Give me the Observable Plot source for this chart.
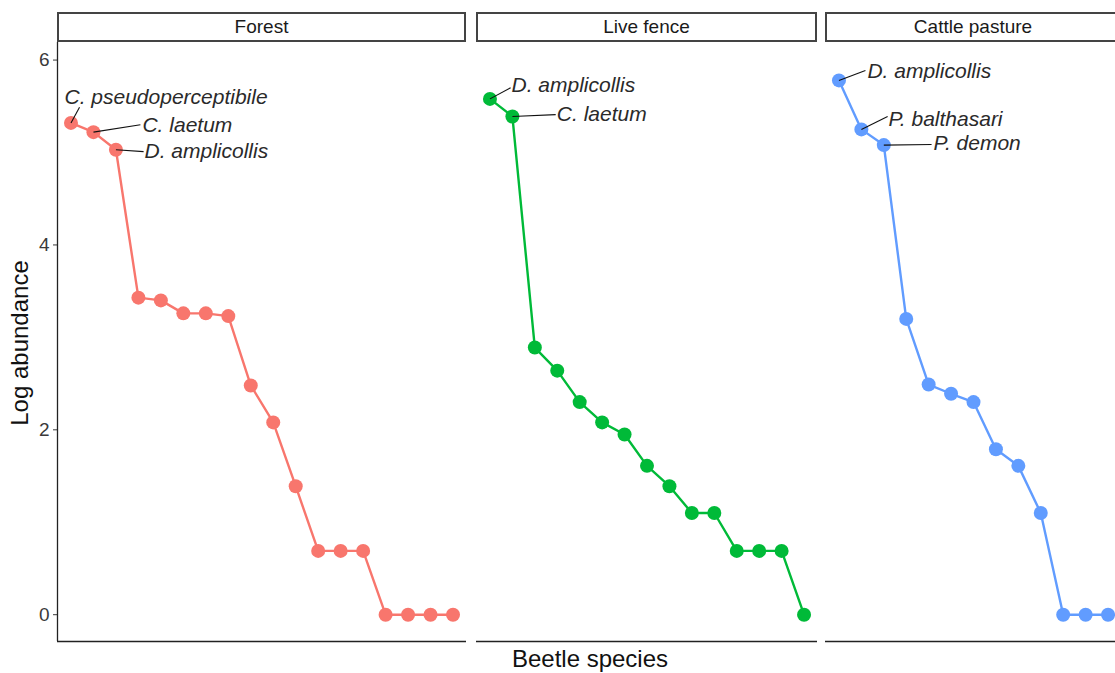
<!DOCTYPE html>
<html>
<head>
<meta charset="utf-8">
<script src="https://cdn.jsdelivr.net/npm/d3@7"></script>
<script src="https://cdn.jsdelivr.net/npm/@observablehq/plot@0.6"></script>
<style>
  html, body { margin: 0; padding: 0; background: #fff; overflow: hidden; }
  body { font-family: "Liberation Sans", Arial, sans-serif; }
  #wrap { position: relative; width: 1140px; height: 673px; }
  .strip { position: absolute; top: 12px; height: 30px; box-sizing: border-box;
           border: 2px solid #444; background: #fff; text-align: center;
           font-size: 19px; line-height: 26px; color: #1a1a1a; white-space: nowrap; overflow: hidden; }
  .panel { position: absolute; top: 42px; }
  .ylab { position: absolute; left: 19.5px; top: 343px; transform: translate(-50%, -50%) rotate(-90deg);
          font-size: 24px; line-height: 1; white-space: nowrap; color: #111; }
  .xlab { position: absolute; left: 590px; top: 647px; transform: translateX(-50%);
          font-size: 24px; line-height: 1; white-space: nowrap; color: #111; }
</style>
</head>
<body>
<div id="wrap">
  <div class="ylab">Log abundance</div>
  <div class="xlab">Beetle species</div>
</div>
<script>
// ---- data ----
const facets = ["Forest", "Live fence", "Cattle pasture"];
const facetColors = ["#F8766D", "#00BA38", "#619CFF"];
const forestValues = [5.32, 5.22, 5.03, 3.43, 3.40, 3.26, 3.26, 3.23, 2.48, 2.08, 1.39, 0.69, 0.69, 0.69, 0, 0, 0, 0];
const liveFenceValues = [5.58, 5.39, 2.89, 2.64, 2.30, 2.08, 1.95, 1.61, 1.39, 1.10, 1.10, 0.69, 0.69, 0.69, 0];
const pastureValues = [5.78, 5.25, 5.08, 3.20, 2.49, 2.39, 2.30, 1.79, 1.61, 1.10, 0, 0, 0];
const yTicks = [0, 2, 4, 6];

// labelled species (facet index, rank, name)
const labelFacet = [0, 0, 0, 1, 1, 2, 2, 2];
const labelRank = [1, 2, 3, 1, 2, 1, 2, 3];
const labelText = ["C. pseudoperceptibile", "C. laetum", "D. amplicollis",
                   "D. amplicollis", "C. laetum",
                   "D. amplicollis", "P. balthasari", "P. demon"];

// ---- layout (repelled label placement, in data units) ----
const labelPos = [[0.71, 5.60], [4.18, 5.29], [4.27, 5.01], [1.96, 5.725], [3.98, 5.41], [2.27, 5.877], [3.21, 5.357], [5.22, 5.098]];
const segEnd = [[1.38, 5.49], [4.09, 5.30], [4.23, 5.01], [1.92, 5.70], [3.93, 5.41], [2.18, 5.888], [3.17, 5.39], [5.13, 5.087]];
const panelLeft = [57, 476, 825];
const stepPx = 22.45;
const yDomain = [-0.29, 6.19];

const seriesValues = [forestValues, liveFenceValues, pastureValues];
const wrap = document.getElementById("wrap");

facets.forEach((name, i) => {
  const vals = seriesValues[i];
  const n = vals.length;
  const rows = vals.map((v, k) => ({rank: k + 1, value: v}));
  const labs = labelText.map((t, j) => ({
    text: t, facet: labelFacet[j], rank: labelRank[j],
    value: seriesValues[labelFacet[j]][labelRank[j] - 1],
    lx: labelPos[j][0], ly: labelPos[j][1], sx: segEnd[j][0], sy: segEnd[j][1]
  })).filter(d => d.facet === i);

  const xDomain = [0.4, n + 0.6];
  const innerW = Math.round((n + 0.2) * stepPx);
  const first = i === 0;
  const mLeft = first ? panelLeft[0] : 0;

  const chart = Plot.plot({
    width: innerW + mLeft,
    height: 601,
    marginTop: 0,
    marginBottom: 2,
    marginLeft: mLeft,
    marginRight: 0,
    style: {fontSize: "19px", fontFamily: "Liberation Sans, Arial, sans-serif", color: "#3a3a3a", background: "transparent", overflow: "visible"},
    x: {domain: xDomain, axis: null},
    y: first
      ? {domain: yDomain, ticks: yTicks, tickSize: 4, tickPadding: 4, label: null, tickFormat: d3.format("d")}
      : {domain: yDomain, axis: null},
    marks: [
      ...(first ? [Plot.ruleX([xDomain[0]], {stroke: "#222", strokeWidth: 1.3})] : []),
      Plot.ruleY([yDomain[0]], {stroke: "#222", strokeWidth: 1.3}),
      Plot.line(rows, {x: "rank", y: "value", stroke: facetColors[i], strokeWidth: 2.4}),
      Plot.dot(rows, {x: "rank", y: "value", r: 7, fill: facetColors[i], stroke: "none"}),
      Plot.link(labs, {x1: "rank", y1: "value", x2: "sx", y2: "sy", stroke: "#111", strokeWidth: 1.1}),
      Plot.text(labs, {x: "lx", y: "ly", text: "text", textAnchor: "start", fontStyle: "italic", fontSize: 21, fill: "#2a2a2a"})
    ]
  });
  const holder = document.createElement("div");
  holder.className = "panel";
  holder.style.left = (first ? 0 : panelLeft[i]) + "px";
  holder.appendChild(chart);
  wrap.appendChild(holder);

  const strip = document.createElement("div");
  strip.className = "strip";
  strip.style.left = panelLeft[i] + "px";
  strip.style.width = innerW + "px";
  strip.textContent = name;
  wrap.appendChild(strip);
});
</script>
</body>
</html>
